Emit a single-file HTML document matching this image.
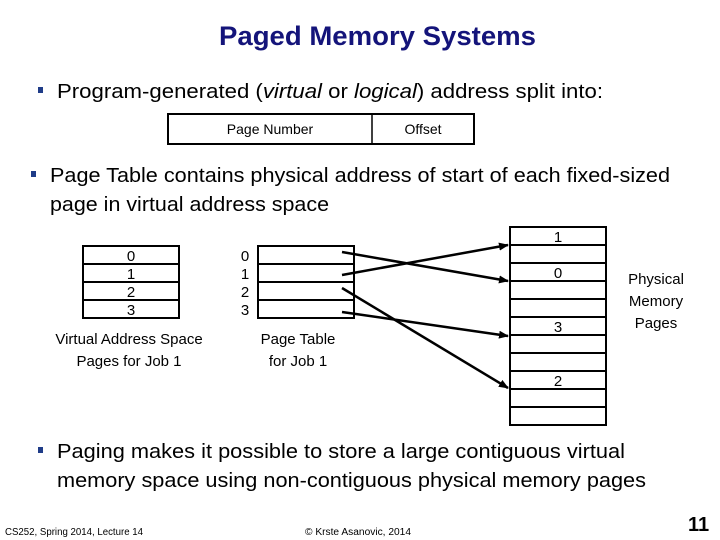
<!DOCTYPE html>
<html><head><meta charset="utf-8"><style>
html,body{margin:0;padding:0;background:#fff;}
svg{display:block;}
text{font-family:"Liberation Sans",sans-serif;fill:#000;}
</style></head><body>
<svg width="720" height="540" viewBox="0 0 720 540" xmlns="http://www.w3.org/2000/svg">
<defs><marker id="ah" markerWidth="10" markerHeight="8" refX="9" refY="4" orient="auto" markerUnits="userSpaceOnUse"><path d="M0,0 L10,4 L0,8 z" fill="#000"/></marker></defs>
<text x="219" y="45" font-size="27" font-weight="bold" style="fill:#14147a" textLength="317" lengthAdjust="spacingAndGlyphs">Paged Memory Systems</text>

<rect x="38" y="87" width="5" height="6" fill="#1f3c88"/>
<text x="57" y="98" font-size="20" textLength="546" lengthAdjust="spacingAndGlyphs">Program-generated (<tspan font-style="italic">virtual</tspan> or <tspan font-style="italic">logical</tspan>) address split into:</text>

<rect x="168" y="114" width="306" height="30" fill="none" stroke="#000" stroke-width="2"/>
<line x1="372" y1="114" x2="372" y2="144" stroke="#000" stroke-width="1.5"/>
<text x="270" y="134" font-size="14" text-anchor="middle">Page Number</text>
<text x="423" y="134" font-size="14" text-anchor="middle">Offset</text>

<rect x="31" y="171" width="5" height="6" fill="#1f3c88"/>
<text x="50" y="182" font-size="20" textLength="620" lengthAdjust="spacingAndGlyphs">Page Table contains physical address of start of each fixed-sized</text>
<text x="50" y="211" font-size="20" textLength="279" lengthAdjust="spacingAndGlyphs">page in virtual address space</text>

<g stroke="#000" stroke-width="2" fill="none">
<rect x="83" y="246" width="96" height="72"/>
<line x1="83" y1="264" x2="179" y2="264"/><line x1="83" y1="282" x2="179" y2="282"/><line x1="83" y1="300" x2="179" y2="300"/>
<rect x="258" y="246" width="96" height="72"/>
<line x1="258" y1="264" x2="354" y2="264"/><line x1="258" y1="282" x2="354" y2="282"/><line x1="258" y1="300" x2="354" y2="300"/>
<rect x="510" y="227" width="96" height="198"/>
<line x1="510" y1="245" x2="606" y2="245"/><line x1="510" y1="263" x2="606" y2="263"/><line x1="510" y1="281" x2="606" y2="281"/><line x1="510" y1="299" x2="606" y2="299"/><line x1="510" y1="317" x2="606" y2="317"/><line x1="510" y1="335" x2="606" y2="335"/><line x1="510" y1="353" x2="606" y2="353"/><line x1="510" y1="371" x2="606" y2="371"/><line x1="510" y1="389" x2="606" y2="389"/><line x1="510" y1="407" x2="606" y2="407"/>
</g>
<g font-size="15" text-anchor="middle">
<text x="131" y="261">0</text><text x="131" y="279">1</text><text x="131" y="297">2</text><text x="131" y="315">3</text>
<text x="245" y="261">0</text><text x="245" y="279">1</text><text x="245" y="297">2</text><text x="245" y="315">3</text>
<text x="558" y="242">1</text><text x="558" y="278">0</text><text x="558" y="332">3</text><text x="558" y="386">2</text>
<text x="129" y="344">Virtual Address Space</text><text x="129" y="366">Pages for Job 1</text>
<text x="298" y="344">Page Table</text><text x="298" y="366">for Job 1</text>
<text x="656" y="284">Physical</text><text x="656" y="306">Memory</text><text x="656" y="328">Pages</text>
</g>
<g stroke="#000" stroke-width="2.5" marker-end="url(#ah)">
<line x1="342" y1="252" x2="508" y2="281"/>
<line x1="342" y1="275" x2="508" y2="245"/>
<line x1="342" y1="288" x2="508" y2="388"/>
<line x1="342" y1="312" x2="508" y2="336"/>
</g>

<rect x="38" y="447" width="5" height="6" fill="#1f3c88"/>
<text x="57" y="458" font-size="20" textLength="568" lengthAdjust="spacingAndGlyphs">Paging makes it possible to store a large contiguous virtual</text>
<text x="57" y="487" font-size="20" textLength="589" lengthAdjust="spacingAndGlyphs">memory space using non-contiguous physical memory pages</text>

<text x="5" y="535" font-size="10" textLength="138" lengthAdjust="spacingAndGlyphs">CS252, Spring 2014, Lecture 14</text>
<text x="305" y="535" font-size="10" textLength="106" lengthAdjust="spacingAndGlyphs">© Krste Asanovic, 2014</text>
<text x="688" y="531" font-size="20" font-weight="bold">11</text>
</svg>
</body></html>
